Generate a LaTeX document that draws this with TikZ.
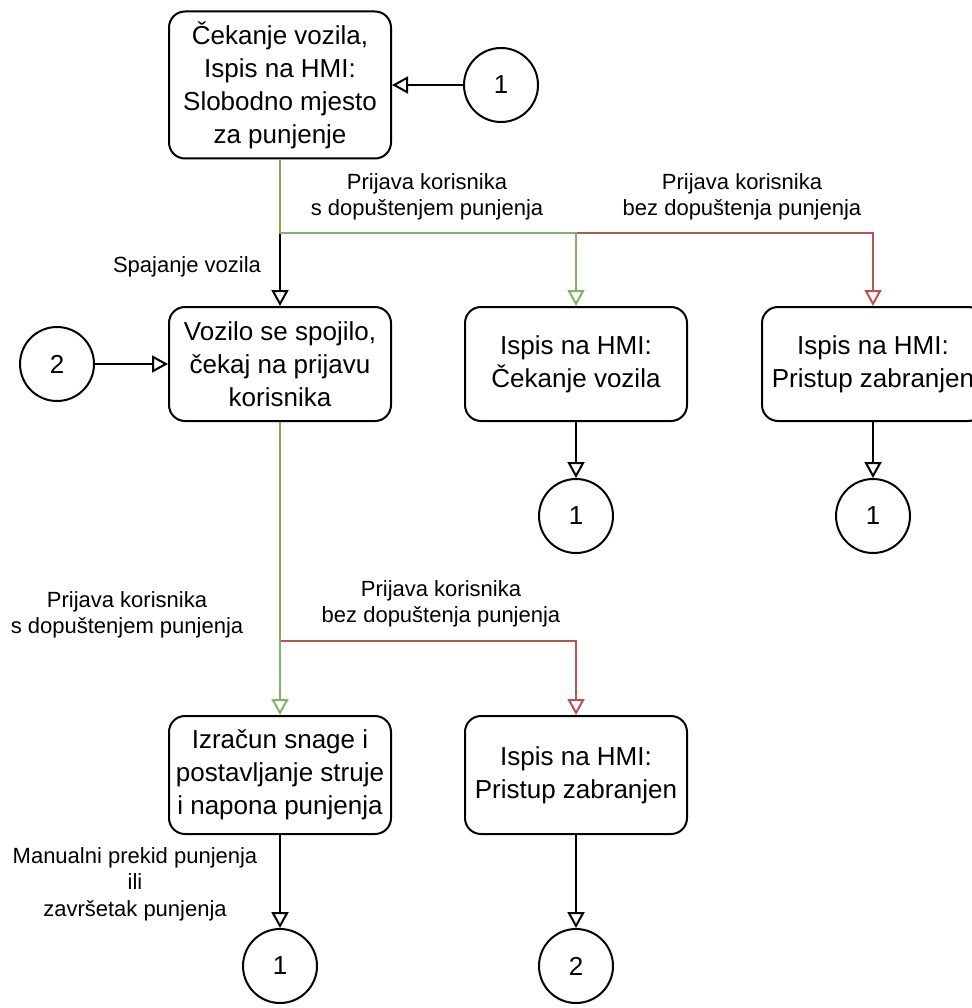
\documentclass[tikz,border=0pt]{standalone}
\usepackage{fontspec}
\setmainfont{Liberation Sans}
\usetikzlibrary{arrows.meta}
\definecolor{okgreen}{HTML}{82B366}
\definecolor{nored}{HTML}{B85450}
\definecolor{mixed}{HTML}{9C9A5B}
\tikzset{
  statebox/.style={draw,line width=2pt,rounded corners=16pt,minimum width=222pt,minimum height=114pt,
    align=center,inner sep=0pt,font=\fontsize{26}{33}\selectfont},
  jump/.style={draw,circle,line width=2pt,minimum size=74pt,inner sep=0pt,font=\fontsize{26}{33}\selectfont},
  flow/.style={line width=2pt,-{Triangle[open,length=16pt,width=17pt]}},
  cond/.style={align=center,font=\fontsize{22}{26.5}\selectfont}
}
\begin{document}
\begin{tikzpicture}[x=1pt,y=-1pt]
  \useasboundingbox (0,0) rectangle (971,1008);
  % states
  \node[statebox,minimum height=147pt] (wait) at (280,85) {Čekanje vozila,\\Ispis na HMI:\\Slobodno mjesto\\za punjenje};
  \node[statebox] (conn) at (280,364) {Vozilo se spojilo,\\čekaj na prijavu\\korisnika};
  \node[statebox] (hmiwait) at (576,364) {Ispis na HMI:\\Čekanje vozila};
  \node[statebox] (hmideny) at (873,364) {Ispis na HMI:\\Pristup zabranjen};
  \node[statebox,minimum height=118pt] (calc) at (280,775) {Izračun snage i\\postavljanje struje\\i napona punjenja};
  \node[statebox,minimum height=118pt] (deny) at (576,775) {Ispis na HMI:\\Pristup zabranjen};
  % connectors 1 and 2
  \node[jump] (in1) at (501,85) {1};
  \node[jump] (in2) at (57,364) {2};
  \node[jump] (out1a) at (576,516) {1};
  \node[jump] (out1b) at (873,516) {1};
  \node[jump] (out1c) at (280,966) {1};
  \node[jump] (out2) at (576,966) {2};
  \coordinate (split1) at (280,233);
  \coordinate (split2) at (280,641);
  % arrows
  \draw[flow] (in1) -- (wait.east);
  \draw[flow] (in2) -- (conn.west);
  \draw[flow] (wait.south) -- (conn.north);
  \draw[flow,nored] (wait.south) -- (split1) -| (hmideny.north);
  \draw[flow,okgreen] (wait.south) -- (split1) -| (hmiwait.north);
  \draw[flow] (hmiwait.south) -- (out1a.north);
  \draw[flow] (hmideny.south) -- (out1b.north);
  \draw[flow,nored] (conn.south) -- (split2) -| (deny.north);
  \draw[flow,okgreen] (conn.south) -- (calc.north);
  \draw[flow] (calc.south) -- (out1c.north);
  \draw[flow] (deny.south) -- (out2.north);
  % shared trunks look mixed
  \draw[line width=2pt,mixed] (wait.south) -- (split1);
  \draw[line width=2pt,mixed] (conn.south) -- (split2);
  % labels
  \node[cond] (lspaj) at (187,267) {Spajanje vozila};
  \node[cond] (lok1) at (427,197) {Prijava korisnika\\s dopuštenjem punjenja};
  \node[cond] (lno1) at (742,197) {Prijava korisnika\\bez dopuštenja punjenja};
  \node[cond] (lok2) at (127,615) {Prijava korisnika\\s dopuštenjem punjenja};
  \node[cond] (lno2) at (441,604) {Prijava korisnika\\bez dopuštenja punjenja};
  \node[cond] (lstop) at (135,884) {Manualni prekid punjenja\\ili\\završetak punjenja};
\end{tikzpicture}
\end{document}
